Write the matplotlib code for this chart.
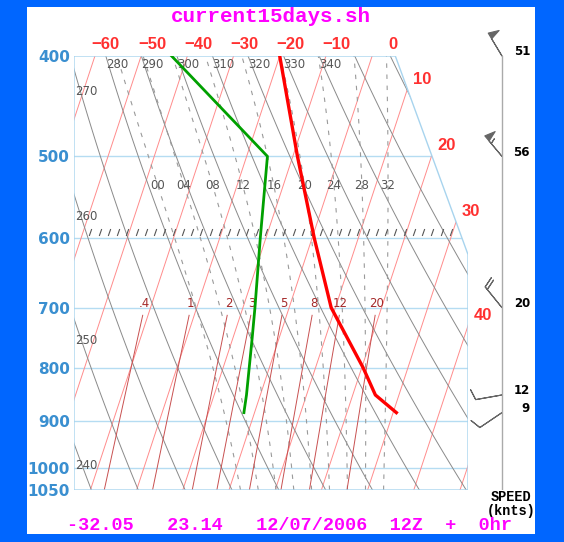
import numpy as np
import matplotlib
matplotlib.use('Agg')
import matplotlib.pyplot as plt
from matplotlib.patches import Polygon, Rectangle
from matplotlib.path import Path
from matplotlib.ticker import NullLocator

# 探空数据 (hPa, degC)
p_temp = [400, 500, 600, 700, 800, 850, 884]
t_temp = [-20.0, -9.0, 0.5, 9.1, 20.3, 24.9, 30.7]
p_dew = [400, 500, 600, 700, 750, 850, 884]
t_dew = [-43.4, -15.5, -11.2, -7.4, -5.8, -3.0, -2.3]

# 风 (knots, deg)
p_wind = [400, 500, 700, 850, 884]
wspd = [51, 56, 20, 12, 9]
wdir = [329, 320, 321, 260, 236]

p_levels = [400, 500, 600, 700, 800, 900, 1000, 1050]
isotherms = np.arange(-100, 61, 10)
top_t_labels = [-60, -50, -40, -30, -20, -10, 0]
right_t_labels = [10, 20, 30, 40]
theta_lines = np.arange(200, 460, 10)
theta_top_labels = [280, 290, 300, 310, 320, 330, 340]
theta_left_labels = [240, 250, 260, 270]
thw_lines = [0, 4, 8, 12, 16, 20, 24, 28, 32]
thw_labels = ['00', '04', '08', '12', '16', '20', '24', '28', '32']
mix_lines = [0.4, 1, 2, 3, 5, 8, 12, 20]
mix_labels = ['.4', '1', '2', '3', '5', '8', '12', '20']

W, H = 564, 542
K = 32.1          # skew
XL, XR = -33.55, 51.73
X_TOPR, P_KNEE = 36.0, 622.0


def skx(t, p):
    return np.asarray(t) + K*np.log(1050.0/np.asarray(p))


def sat_mr(tk, p):
    tc = tk - 273.15
    es = 6.112*np.exp(17.67*tc/(tc+243.5))
    return 0.622*es/(p-es)


def dtdp(tk, p):
    rs = sat_mr(tk, p)
    num = (287.04*tk + 2.501e6*rs)/p
    den = 1005.7 + (2.501e6**2*rs*0.622)/(287.04*tk**2)
    return num/den


def moist(thw, p_end, step):
    tk = thw + 273.15
    p = 1000.0
    ps, ts = [p], [tk]
    while (step < 0 and p > p_end) or (step > 0 and p < p_end):
        k1 = dtdp(tk, p)
        k2 = dtdp(tk+0.5*step*k1, p+0.5*step)
        k3 = dtdp(tk+0.5*step*k2, p+0.5*step)
        k4 = dtdp(tk+step*k3, p+step)
        tk = tk + step*(k1+2*k2+2*k3+k4)/6
        p = p + step
        ps.append(p)
        ts.append(tk)
    return np.array(ps), np.array(ts)-273.15


fig = plt.figure(figsize=(W/100, H/100), dpi=100, facecolor='#0066ff')
fig.add_artist(Rectangle((27/W, 1-534/H), 508/W, 527/H, transform=fig.transFigure,
                         facecolor='white', edgecolor='none', zorder=0))

ax = fig.add_axes([74/W, 1-490/H, 394/W, 434/H])
ax.set_yscale('log')
ax.set_ylim(1050, 400)
ax.set_xlim(XL, XR)
ax.patch.set_visible(False)
for s in ax.spines.values():
    s.set_visible(False)
ax.set_xticks([])
ax.yaxis.set_minor_locator(NullLocator())
ax.set_yticks(p_levels)
ax.set_yticklabels([str(p) for p in p_levels])
ax.tick_params(axis='y', length=0, pad=3, labelcolor='#3a8fd0')
for lb in ax.get_yticklabels():
    lb.set_fontweight('bold')
    lb.set_fontsize(11)

border = Polygon([(XL, 400), (X_TOPR, 400), (XR, P_KNEE), (XR, 1050), (XL, 1050)],
                 closed=True, transform=ax.transData, facecolor='none',
                 edgecolor='#a8d4ee', lw=1, zorder=6)
ax.add_patch(border)


def clipped(lines):
    for ln in lines:
        ln.set_clip_path(border)


pp = np.linspace(1050, 400, 80)

# 等压线
for p in p_levels[1:-1]:
    clipped(ax.plot([XL, XR], [p, p], color='#b5dcf2', lw=1, zorder=1))

# 等温线
for t in isotherms:
    clipped(ax.plot(skx(t, pp), pp, color='#ff8c8c', lw=0.7, zorder=2))

# 干绝热线
for th in theta_lines:
    tt = th*(pp/1000.0)**0.2857 - 273.15
    clipped(ax.plot(skx(tt, pp), pp, color='#8a8a8a', lw=0.7, zorder=2))

# 湿绝热线
for thw in thw_lines:
    pu, tu = moist(thw, 400, -2.0)
    pd, td = moist(thw, 1050, 2.0)
    pm = np.concatenate([pd[::-1], pu[1:]])
    tm = np.concatenate([td[::-1], tu[1:]])
    clipped(ax.plot(skx(tm, pm), pm, color='#9a9a9a', lw=0.8, ls=(0, (4, 6)), zorder=2))
    p_lab = 533
    x_lab = np.interp(p_lab, pm[::-1], skx(tm, pm)[::-1])
    ax.text(x_lab, p_lab, thw_labels[thw_lines.index(thw)], ha='center', va='center',
            fontsize=8.5, color='#555555', zorder=5)

# 混合比线
pw = np.linspace(1050, 712, 30)
for w, lab in zip(mix_lines, mix_labels):
    e = w*pw/(622.0+w)
    a = np.log(e/6.112)
    td = 243.5*a/(17.67-a)
    clipped(ax.plot(skx(td, pw), pw, color='#c85050', lw=0.7, zorder=2))
    e7 = w*700/(622.0+w)
    a7 = np.log(e7/6.112)
    ax.text(skx(243.5*a7/(17.67-a7), 700), 693, lab, ha='center', va='center',
            fontsize=8.5, color='#a52a2a', zorder=5)

# 600hPa 刻度
tick_m = Path([(-0.35, -1), (0.35, 1)], [Path.MOVETO, Path.LINETO])
ax.plot(np.arange(-30, 49, 2), [591]*40, ls='none', marker=tick_m, ms=5,
        mec='#555555', mew=0.8, zorder=3)

# 温度标注
for t in top_t_labels:
    x = skx(t, 400) + 25/4.619
    ax.text(x, 390.3, str(t).replace('-', '\u2212'), ha='right', va='center',
            fontsize=12, fontweight='bold', family='Liberation Sans', color='#ff3030')
L = np.log(P_KNEE/400.0)
for t in right_t_labels:
    s = (t + K*np.log(1050/400.0) - X_TOPR)/((XR-X_TOPR) + K*L)
    if s <= 1:
        xc, pc = X_TOPR + (XR-X_TOPR)*s, 400*np.exp(s*L)
    else:
        xc, pc = XR, 1050*np.exp(-(XR-t)/K)
    ax.annotate(str(t), (xc, pc), xytext=(10.8, 7.2), textcoords='offset points',
                ha='center', va='center', fontsize=12, fontweight='bold',
                family='Liberation Sans', color='#ff3030', annotation_clip=False)

for th in theta_top_labels:
    x = skx(th*0.4**0.2857 - 273.15, 400)
    ax.annotate(str(th), (x, 400), xytext=(0, -5.8), textcoords='offset points',
                ha='left', va='center', fontsize=8.5, color='#555555')
pdense = np.linspace(1050, 400, 2000)
for th in theta_left_labels:
    xx = skx(th*(pdense/1000.0)**0.2857 - 273.15, pdense)
    pc = pdense[np.argmin(np.abs(xx - XL))]
    ax.annotate(str(th), (XL, pc), xytext=(0.5, -15.8), textcoords='offset points',
                ha='left', va='center', fontsize=8.5, color='#555555')

# 温度/露点廓线
ax.plot(skx(t_temp, p_temp), p_temp, color='#ff0000', lw=2.4, zorder=7)
ax.plot(skx(t_dew, p_dew), p_dew, color='#00a000', lw=2.0, zorder=7)

# 风羽
ax2 = fig.add_axes([470/W, 1-490/H, 65/W, 434/H])
ax2.set_yscale('log')
ax2.set_ylim(1050, 400)
ax2.set_xlim(0, 1)
ax2.axis('off')
ax2.plot([0.492, 0.492], [400, 1050], color='#aaaaaa', lw=1)
spd = np.array(wspd, float)
rad = np.deg2rad(wdir)
u = -spd*np.sin(rad)
v = -spd*np.cos(rad)
ax2.barbs([0.492]*len(p_wind), p_wind, u, v, length=6.2, color='#666666',
          flagcolor='black', lw=0.8, clip_on=False)
for p, sp in zip(p_wind, wspd):
    ax2.annotate(str(sp), (0.923, p), xytext=(0, 2.9), textcoords='offset points',
                 ha='right', va='center', fontsize=8.5, fontweight='bold', color='black')

fig.text(511/W, 1-504/H, 'SPEED\n(knts)', ha='center', va='center', fontsize=9.8,
         linespacing=0.95, fontweight='bold', family='Liberation Mono', color='black')

fig.text(271/W, 1-16/H, 'current15days.sh', ha='center', va='center', fontsize=15,
         fontweight='bold', family='Liberation Mono', color='#ff00ff')
fig.text(67/W, 1-525/H, '-32.05   23.14   12/07/2006  12Z  +  0hr', ha='left',
         va='center', fontsize=13.3, fontweight='bold', family='Liberation Mono',
         color='#ff00ff')

plt.savefig('out.png', dpi=100, facecolor=fig.get_facecolor())
